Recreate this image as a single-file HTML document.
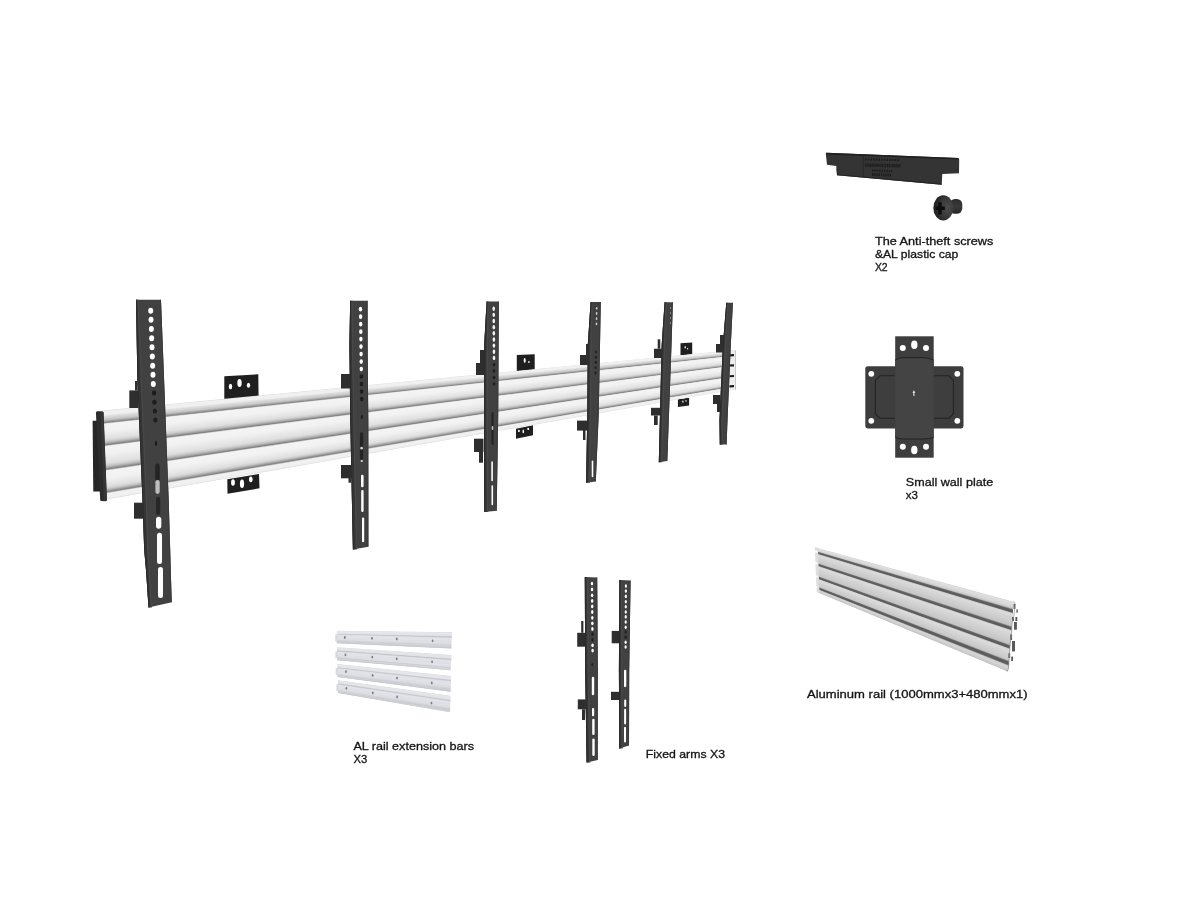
<!DOCTYPE html>
<html><head><meta charset="utf-8"><title>Video wall mount kit contents</title>
<style>
html,body{margin:0;padding:0;background:#ffffff;}
body{position:relative;width:1200px;height:900px;overflow:hidden;font-family:"Liberation Sans",sans-serif;}
svg{display:block;}
#art{position:absolute;left:0;top:0;}
#labels{position:absolute;left:0;top:0;will-change:transform;}
</style></head><body>
<svg id="art" width="1200" height="900" viewBox="0 0 1200 900">
<rect width="1200" height="900" fill="#ffffff"/>
<g id="wallplates">
<polygon points="224.3,376.2 258.3,374.3 258.6,398 224.3,400" fill="#1f1f1f"/>
<ellipse cx="230.5" cy="386.5" rx="1.7" ry="2.7" fill="#ffffff"/>
<ellipse cx="239.5" cy="383" rx="2.2" ry="3.9" fill="#ffffff"/>
<ellipse cx="248.5" cy="385.3" rx="1.7" ry="2.5" fill="#ffffff"/>
<polygon points="227.3,479.3 259,474 259.5,488.3 227.5,493.8" fill="#1f1f1f"/>
<ellipse cx="233" cy="482.5" rx="1.9" ry="3.3" fill="#ffffff"/>
<ellipse cx="242" cy="483.7" rx="2.1" ry="4.3" fill="#ffffff"/>
<ellipse cx="250.8" cy="479.3" rx="1.8" ry="2.9" fill="#ffffff"/>
<polygon points="516.8,355 534.7,354.2 534.7,372 516.8,372.5" fill="#1f1f1f"/>
<ellipse cx="524.7" cy="360.5" rx="1" ry="2.4" fill="#ffffff"/>
<ellipse cx="528.9" cy="362" rx="0.8" ry="1" fill="#ffffff"/>
<polygon points="516,428.7 533,425.3 533,435.3 516,438.7" fill="#1f1f1f"/>
<ellipse cx="518.9" cy="430.9" rx="0.9" ry="1.2" fill="#ffffff"/>
<ellipse cx="523.3" cy="431.4" rx="0.8" ry="1.9" fill="#ffffff"/>
<ellipse cx="528.2" cy="428.9" rx="0.9" ry="1.2" fill="#ffffff"/>
<polygon points="680.5,343.2 692.2,342.4 692.2,355 680.5,356.5" fill="#1f1f1f"/>
<ellipse cx="685.2" cy="347.3" rx="0.6" ry="1.3" fill="#ffffff"/>
<ellipse cx="687.6" cy="348.8" rx="0.6" ry="0.7" fill="#ffffff"/>
<polygon points="677.9,399.2 689.1,397.7 689.1,405.4 677.9,407" fill="#1f1f1f"/>
<ellipse cx="682.9" cy="401.6" rx="0.6" ry="1.2" fill="#ffffff"/>
<ellipse cx="686" cy="400.9" rx="0.6" ry="0.8" fill="#ffffff"/>
</g>
<polygon points="92.6,420.8 97.2,420.8 101.5,491.5 93.3,491.5" fill="#262626"/>
<g id="rail">
<polygon points="100,410.81 735,349.88 735,350.67 100,412.6" fill="#dedede"/>
<polygon points="100,411.52 735,350.2 735,350.69 100,412.63" fill="#f0f0f0"/>
<polygon points="100,411.55 735,350.21 735,351.02 100,413.38" fill="#f0f0f0"/>
<polygon points="100,412.3 735,350.54 735,351.34 100,414.13" fill="#f0f0f0"/>
<polygon points="100,413.05 735,350.87 735,351.67 100,414.88" fill="#f0f0f0"/>
<polygon points="100,413.8 735,351.2 735,352 100,415.63" fill="#f0f0f0"/>
<polygon points="100,414.55 735,351.53 735,352.33 100,416.37" fill="#f0f0f0"/>
<polygon points="100,415.3 735,351.86 735,352.66 100,417.12" fill="#ececec"/>
<polygon points="100,416.04 735,352.19 735,352.92 100,417.72" fill="#e4e4e4"/>
<polygon points="100,416.64 735,352.45 735,352.99 100,417.87" fill="#dfdfdf"/>
<polygon points="100,416.79 735,352.52 735,353.32 100,418.62" fill="#dcdcdc"/>
<polygon points="100,417.54 735,352.84 735,353.65 100,419.37" fill="#d7d7d7"/>
<polygon points="100,418.29 735,353.17 735,353.98 100,420.12" fill="#d1d1d1"/>
<polygon points="100,419.04 735,353.5 735,354.31 100,420.86" fill="#cccccc"/>
<polygon points="100,419.79 735,353.83 735,354.5 100,421.31" fill="#c8c8c8"/>
<polygon points="100,420.24 735,354.03 735,354.63 100,421.61" fill="#c3c3c3"/>
<polygon points="100,420.53 735,354.16 735,354.96 100,422.36" fill="#b8b8b8"/>
<polygon points="100,421.28 735,354.49 735,355.29 100,423.11" fill="#a8a8a8"/>
<polygon points="100,422.03 735,354.82 735,355.62 100,423.86" fill="#949494"/>
<polygon points="100,422.78 735,355.15 735,355.81 100,424.28" fill="#818181"/>
<polygon points="100,423.2 735,355.33 735,355.95 100,424.61" fill="#8a8a8a"/>
<polygon points="100,423.53 735,355.48 735,356.12 100,425" fill="#acacac"/>
<polygon points="100,423.92 735,355.65 735,356.28 100,425.35" fill="#d0d0d0"/>
<polygon points="100,424.28 735,355.81 735,356.36 100,425.53" fill="#ebebeb"/>
<polygon points="100,424.46 735,355.88 735,356.61 100,426.1" fill="#f4f4f4"/>
<polygon points="100,425.02 735,356.13 735,356.94 100,426.85" fill="#f4f4f4"/>
<polygon points="100,425.77 735,356.46 735,357.27 100,427.6" fill="#f4f4f4"/>
<polygon points="100,426.52 735,356.79 735,357.59 100,428.35" fill="#f3f3f3"/>
<polygon points="100,427.27 735,357.12 735,357.92 100,429.1" fill="#f3f3f3"/>
<polygon points="100,428.02 735,357.45 735,358.25 100,429.84" fill="#f3f3f3"/>
<polygon points="100,428.77 735,357.78 735,358.58 100,430.59" fill="#f3f3f3"/>
<polygon points="100,429.52 735,358.11 735,358.91 100,431.34" fill="#f2f2f2"/>
<polygon points="100,430.26 735,358.44 735,359.24 100,432.09" fill="#f2f2f2"/>
<polygon points="100,431.01 735,358.77 735,359.44 100,432.54" fill="#f2f2f2"/>
<polygon points="100,431.46 735,358.96 735,359.57 100,432.84" fill="#f2f2f2"/>
<polygon points="100,431.76 735,359.09 735,359.9 100,433.59" fill="#f0f0f0"/>
<polygon points="100,432.51 735,359.42 735,360.23 100,434.33" fill="#efefef"/>
<polygon points="100,433.26 735,359.75 735,360.56 100,435.08" fill="#ededed"/>
<polygon points="100,434.01 735,360.08 735,360.88 100,435.83" fill="#ececec"/>
<polygon points="100,434.75 735,360.41 735,361.21 100,436.58" fill="#eaeaea"/>
<polygon points="100,435.5 735,360.74 735,361.54 100,437.33" fill="#e8e8e8"/>
<polygon points="100,436.25 735,361.07 735,361.87 100,438.08" fill="#e6e6e6"/>
<polygon points="100,437 735,361.4 735,362.2 100,438.82" fill="#e5e5e5"/>
<polygon points="100,437.75 735,361.73 735,362.53 100,439.57" fill="#e3e3e3"/>
<polygon points="100,438.5 735,362.06 735,362.86 100,440.32" fill="#e2e2e2"/>
<polygon points="100,439.24 735,362.38 735,362.99 100,440.62" fill="#e0e0e0"/>
<polygon points="100,439.54 735,362.52 735,363.19 100,441.07" fill="#dedede"/>
<polygon points="100,439.99 735,362.71 735,363.52 100,441.82" fill="#d9d9d9"/>
<polygon points="100,440.74 735,363.04 735,363.84 100,442.57" fill="#d3d3d3"/>
<polygon points="100,441.49 735,363.37 735,363.98 100,442.87" fill="#cfcfcf"/>
<polygon points="100,441.79 735,363.5 735,364.17 100,443.32" fill="#cacaca"/>
<polygon points="100,442.24 735,363.7 735,364.5 100,444.06" fill="#c0c0c0"/>
<polygon points="100,442.99 735,364.03 735,364.83 100,444.81" fill="#b3b3b3"/>
<polygon points="100,443.73 735,364.36 735,364.96 100,445.11" fill="#ababab"/>
<polygon points="100,444.03 735,364.49 735,365.16 100,445.56" fill="#a1a1a1"/>
<polygon points="100,444.48 735,364.69 735,365.49 100,446.31" fill="#909090"/>
<polygon points="100,445.23 735,365.02 735,365.67 100,446.73" fill="#7e7e7e"/>
<polygon points="100,445.65 735,365.2 735,365.82 100,447.06" fill="#868686"/>
<polygon points="100,445.98 735,365.34 735,366.03 100,447.54" fill="#a9a9a9"/>
<polygon points="100,446.46 735,365.56 735,366.15 100,447.81" fill="#cacaca"/>
<polygon points="100,446.73 735,365.67 735,366.31 100,448.16" fill="#e5e5e5"/>
<polygon points="100,447.09 735,365.83 735,366.48 100,448.55" fill="#f4f4f4"/>
<polygon points="100,447.48 735,366 735,366.81 100,449.3" fill="#f4f4f4"/>
<polygon points="100,448.22 735,366.33 735,367.13 100,450.05" fill="#f4f4f4"/>
<polygon points="100,448.97 735,366.66 735,367.46 100,450.8" fill="#f3f3f3"/>
<polygon points="100,449.72 735,366.99 735,367.79 100,451.55" fill="#f3f3f3"/>
<polygon points="100,450.47 735,367.32 735,368.12 100,452.3" fill="#f3f3f3"/>
<polygon points="100,451.22 735,367.65 735,368.45 100,453.04" fill="#f3f3f3"/>
<polygon points="100,451.97 735,367.98 735,368.78 100,453.79" fill="#f2f2f2"/>
<polygon points="100,452.71 735,368.31 735,369.11 100,454.54" fill="#f2f2f2"/>
<polygon points="100,453.46 735,368.63 735,369.31 100,454.99" fill="#f2f2f2"/>
<polygon points="100,453.91 735,368.83 735,369.44 100,455.29" fill="#f2f2f2"/>
<polygon points="100,454.21 735,368.96 735,369.77 100,456.04" fill="#f1f1f1"/>
<polygon points="100,454.96 735,369.29 735,370.09 100,456.79" fill="#efefef"/>
<polygon points="100,455.71 735,369.62 735,370.42 100,457.53" fill="#eeeeee"/>
<polygon points="100,456.46 735,369.95 735,370.75 100,458.28" fill="#ededed"/>
<polygon points="100,457.2 735,370.28 735,371.08 100,459.03" fill="#ebebeb"/>
<polygon points="100,457.95 735,370.61 735,371.41 100,459.78" fill="#eaeaea"/>
<polygon points="100,458.7 735,370.94 735,371.74 100,460.53" fill="#e9e9e9"/>
<polygon points="100,459.45 735,371.27 735,372.07 100,461.28" fill="#e7e7e7"/>
<polygon points="100,460.2 735,371.59 735,372.4 100,462.02" fill="#e6e6e6"/>
<polygon points="100,460.95 735,371.92 735,372.73 100,462.77" fill="#e4e4e4"/>
<polygon points="100,461.69 735,372.25 735,373.06 100,463.52" fill="#e3e3e3"/>
<polygon points="100,462.44 735,372.58 735,373.38 100,464.27" fill="#e2e2e2"/>
<polygon points="100,463.19 735,372.91 735,373.65 100,464.87" fill="#e1e1e1"/>
<polygon points="100,463.79 735,373.17 735,373.71 100,465.02" fill="#dfdfdf"/>
<polygon points="100,463.94 735,373.24 735,374.04 100,465.77" fill="#dcdcdc"/>
<polygon points="100,464.69 735,373.57 735,374.37 100,466.51" fill="#d6d6d6"/>
<polygon points="100,465.44 735,373.9 735,374.63 100,467.11" fill="#d0d0d0"/>
<polygon points="100,466.04 735,374.16 735,374.7 100,467.26" fill="#cdcdcd"/>
<polygon points="100,466.19 735,374.23 735,375.03 100,468.01" fill="#c6c6c6"/>
<polygon points="100,466.93 735,374.56 735,375.36 100,468.76" fill="#bbbbbb"/>
<polygon points="100,467.68 735,374.88 735,375.69 100,469.51" fill="#afafaf"/>
<polygon points="100,468.43 735,375.21 735,375.74 100,469.63" fill="#a9a9a9"/>
<polygon points="100,468.55 735,375.27 735,376.02 100,470.26" fill="#9f9f9f"/>
<polygon points="100,469.18 735,375.54 735,376.34 100,471" fill="#8c8c8c"/>
<polygon points="100,469.93 735,375.87 735,376.49 100,471.33" fill="#7d7d7d"/>
<polygon points="100,470.26 735,376.02 735,376.67 100,471.75" fill="#8a8a8a"/>
<polygon points="100,470.68 735,376.2 735,376.84 100,472.14" fill="#adadad"/>
<polygon points="100,471.06 735,376.37 735,377 100,472.5" fill="#cdcdcd"/>
<polygon points="100,471.42 735,376.53 735,377.12 100,472.77" fill="#e8e8e8"/>
<polygon points="100,471.69 735,376.65 735,377.33 100,473.25" fill="#f4f4f4"/>
<polygon points="100,472.17 735,376.86 735,377.66 100,474" fill="#f4f4f4"/>
<polygon points="100,472.92 735,377.19 735,377.99 100,474.75" fill="#f4f4f4"/>
<polygon points="100,473.67 735,377.52 735,378.32 100,475.49" fill="#f3f3f3"/>
<polygon points="100,474.42 735,377.84 735,378.65 100,476.24" fill="#f3f3f3"/>
<polygon points="100,475.17 735,378.17 735,378.98 100,476.99" fill="#f3f3f3"/>
<polygon points="100,475.91 735,378.5 735,379.31 100,477.74" fill="#f3f3f3"/>
<polygon points="100,476.66 735,378.83 735,379.63 100,478.49" fill="#f3f3f3"/>
<polygon points="100,477.41 735,379.16 735,379.96 100,479.24" fill="#f2f2f2"/>
<polygon points="100,478.16 735,379.49 735,380.29 100,479.99" fill="#f2f2f2"/>
<polygon points="100,478.91 735,379.82 735,380.36 100,480.13" fill="#f2f2f2"/>
<polygon points="100,479.06 735,379.88 735,380.62 100,480.73" fill="#f1f1f1"/>
<polygon points="100,479.66 735,380.15 735,380.95 100,481.48" fill="#f0f0f0"/>
<polygon points="100,480.4 735,380.48 735,381.28 100,482.23" fill="#eeeeee"/>
<polygon points="100,481.15 735,380.81 735,381.61 100,482.98" fill="#ececec"/>
<polygon points="100,481.9 735,381.13 735,381.94 100,483.73" fill="#ebebeb"/>
<polygon points="100,482.65 735,381.46 735,382.27 100,484.48" fill="#e9e9e9"/>
<polygon points="100,483.4 735,381.79 735,382.59 100,485.22" fill="#e8e8e8"/>
<polygon points="100,484.15 735,382.12 735,382.92 100,485.97" fill="#e6e6e6"/>
<polygon points="100,484.89 735,382.45 735,383.25 100,486.72" fill="#e4e4e4"/>
<polygon points="100,485.64 735,382.78 735,383.58 100,487.47" fill="#e2e2e2"/>
<polygon points="100,486.39 735,383.11 735,383.91 100,488.22" fill="#e1e1e1"/>
<polygon points="100,487.14 735,383.44 735,384.24 100,488.97" fill="#dddddd"/>
<polygon points="100,487.89 735,383.77 735,384.57 100,489.71" fill="#d7d7d7"/>
<polygon points="100,488.64 735,384.09 735,384.9 100,490.46" fill="#d1d1d1"/>
<polygon points="100,489.38 735,384.42 735,385.23 100,491.21" fill="#c7c7c7"/>
<polygon points="100,490.13 735,384.75 735,385.56 100,491.96" fill="#b9b9b9"/>
<polygon points="100,490.88 735,385.08 735,385.81 100,492.53" fill="#adadad"/>
<polygon points="100,491.45 735,385.33 735,385.88 100,492.71" fill="#a6a6a6"/>
<polygon points="100,491.63 735,385.41 735,386.21 100,493.46" fill="#9a9a9a"/>
<polygon points="100,492.38 735,385.74 735,386.54 100,494.2" fill="#878787"/>
<polygon points="100,493.13 735,386.07 735,386.59 100,494.32" fill="#7c7c7c"/>
<polygon points="100,493.25 735,386.12 735,386.87 100,494.95" fill="#959595"/>
<polygon points="100,493.87 735,386.4 735,386.99 100,495.22" fill="#bcbcbc"/>
<polygon points="100,494.14 735,386.52 735,387.2 100,495.7" fill="#d6d6d6"/>
<polygon points="100,494.62 735,386.73 735,387.31 100,495.94" fill="#ebebeb"/>
<polygon points="100,494.86 735,386.83 735,387.53 100,496.45" fill="#f2f2f2"/>
<polygon points="100,495.37 735,387.06 735,387.86 100,497.2" fill="#f2f2f2"/>
<polygon points="100,496.12 735,387.38 735,388.19 100,497.95" fill="#f1f1f1"/>
<polygon points="100,496.87 735,387.71 735,388.52 100,498.69" fill="#f1f1f1"/>
<polygon points="100,497.62 735,388.04 735,388.84 100,499.44" fill="#f1f1f1"/>
<polygon points="100,498.36 735,388.37 735,389.17 100,500.19" fill="#f0f0f0"/>
<polygon points="100,499.11 735,388.7 735,389.36 100,500.61" fill="#f0f0f0"/>
<polygon points="100,499.71 735,388.96 735,389.36 100,500.61" fill="#eeeeee"/>
<polygon points="100,499.86 735,389.03 735,389.36 100,500.61" fill="#e0e0e0"/>
</g>
<polygon points="729.5,351.5 735.5,350.5 735.5,390 729.5,390.5" fill="#eeeeee"/>
<polygon points="735,350.5 735.8,350.5 735.8,390 735,390" fill="#bbbbbb"/>
<polygon points="729.5,354.3 734,354.1 734,356.2 729.5,356.4" fill="#1a1a1a"/>
<polygon points="729.5,364.5 734,364.3 734,366.4 729.5,366.6" fill="#1a1a1a"/>
<polygon points="729.5,375.2 734,375 734,377.1 729.5,377.3" fill="#1a1a1a"/>
<polygon points="729.5,385.3 734,385.1 734,387.2 729.5,387.4" fill="#1a1a1a"/>
<polygon points="95.9,412.2 97,411.3 102.3,411.3 103.6,412.2 107,500.5 106,501.2 101,501 100.2,500.2" fill="#2c2c2c"/>
<polygon points="100.3,412 103.4,412 106.8,500 103.8,500.5" fill="#363636"/>
<g id="hooks">
<polygon points="129.3,390.4 138.5,390.4 138.5,408 129.3,408" fill="#2e2e2e"/>
<polygon points="135,381 137.5,381 137.5,390.5 135,390.5" fill="#2e2e2e"/>
<polygon points="134,502.7 143.3,502.7 143.3,518.7 134,518.7" fill="#2e2e2e"/>
<polygon points="341,374 350.5,374 350.5,388.5 341,388.5" fill="#2e2e2e"/>
<polygon points="341,465 352,465 352,478.3 341,478.3" fill="#2e2e2e"/>
<polygon points="348.5,478 351,478 351,482.7 348.5,482.7" fill="#2e2e2e"/>
<polygon points="476,363 484.5,363 484.5,375 476,375" fill="#2e2e2e"/>
<polygon points="480,350 484.5,350 484.5,363 480,363" fill="#2e2e2e"/>
<polygon points="474,438.7 483.5,438.7 483.5,452 474,452" fill="#2e2e2e"/>
<polygon points="479,452 483,452 483,462.7 479,462.7" fill="#2e2e2e"/>
<polygon points="580,355 589,355 589,365 580,365" fill="#2e2e2e"/>
<polygon points="586,344 589,344 589,355 586,355" fill="#2e2e2e"/>
<polygon points="577,420.6 587,420.6 587,430.6 577,430.6" fill="#2e2e2e"/>
<polygon points="583,430 585.5,430 585.5,440 583,440" fill="#2e2e2e"/>
<polygon points="654,348.7 663.5,348.7 663.5,358 654,358" fill="#2e2e2e"/>
<polygon points="657.7,339.3 660.3,339.3 660.3,348.7 657.7,348.7" fill="#2e2e2e"/>
<polygon points="651,407.8 661,407.8 661,415.5 651,415.5" fill="#2e2e2e"/>
<polygon points="654,415.5 657.7,415.5 657.7,425 654,425" fill="#2e2e2e"/>
<polygon points="716,344 724.5,344 724.5,352.5 716,352.5" fill="#2e2e2e"/>
<polygon points="720,335 724,335 724,344 720,344" fill="#2e2e2e"/>
<polygon points="713,395 720.5,395 720.5,404 713,404" fill="#2e2e2e"/>
<polygon points="717,404 720,404 720,412 717,412" fill="#2e2e2e"/>
</g>
<g id="arms">
<polygon points="136,299.8 137.4,380 142.5,500 144.2,550 146,570 148.5,607.5 171.75,602.25 170.75,570 170.2,550 168.7,500 164.1,380 161,299.8" fill="#414141"/>
<polygon points="136,299.8 137.4,380 142.5,500 144.2,550 146,570 148.5,607.5 150.7,607.5 148.6,570 147.2,550 145.7,500 140.6,380 137.5,299.8" fill="#353535"/>
<polygon points="137.5,299.8 140.6,380 145.7,500 147.2,550 148.6,570 150.7,607.5 152,607.5 149.9,570 148.5,550 147,500 141.9,380 138.8,299.8" fill="#484848"/>
<polygon points="136,299.8 137.4,380 142.5,500 144.2,550 146,570 148.5,607.5 149.4,607.5 146.9,570 145.1,550 143.4,500 138.3,380 136.9,299.8" fill="#2a2a2a"/>
<polygon points="160.2,299.8 163.3,380 167.9,500 169.4,550 169.95,570 170.95,602.25 171.75,602.25 170.75,570 170.2,550 168.7,500 164.1,380 161,299.8" fill="#383838"/>
<ellipse cx="150.7" cy="310.7" rx="2.5" ry="3" fill="#ffffff"/>
<ellipse cx="151.02" cy="319.86" rx="2.5" ry="3" fill="#ffffff"/>
<ellipse cx="151.35" cy="329.02" rx="2.5" ry="3" fill="#ffffff"/>
<ellipse cx="151.68" cy="338.18" rx="2.5" ry="3" fill="#ffffff"/>
<ellipse cx="152" cy="347.34" rx="2.5" ry="3" fill="#ffffff"/>
<ellipse cx="152.32" cy="356.5" rx="2.5" ry="3" fill="#ffffff"/>
<ellipse cx="152.65" cy="365.66" rx="2.5" ry="3" fill="#ffffff"/>
<ellipse cx="152.98" cy="374.82" rx="2.5" ry="3" fill="#ffffff"/>
<ellipse cx="153.3" cy="383.98" rx="2.5" ry="3" fill="#ffffff"/>
<ellipse cx="154" cy="392.9" rx="2.2" ry="2.6" fill="#1d1d1d"/>
<ellipse cx="154.4" cy="402.2" rx="2.2" ry="2.6" fill="#1d1d1d"/>
<ellipse cx="154.9" cy="411.1" rx="2.1" ry="2.5" fill="#1d1d1d"/>
<ellipse cx="155.3" cy="420" rx="2.1" ry="2.5" fill="#1d1d1d"/>
<ellipse cx="156" cy="443.3" rx="1" ry="2.6" fill="#161616"/>
<rect x="155.2" y="463.6" width="4.5" height="17.4" rx="2.25" fill="#242424"/>
<rect x="155.4" y="480" width="4.3" height="14" rx="2.15" fill="#bdbdbd"/>
<rect x="156" y="497" width="4.2" height="18" rx="2.1" fill="#262626"/>
<rect x="156" y="516.7" width="5.3" height="12" rx="2.65" fill="#ffffff"/>
<rect x="157" y="532.7" width="5" height="31.3" rx="2.5" fill="#ffffff"/>
<rect x="158" y="567" width="5" height="31" rx="2.5" fill="#ffffff"/>
<polygon points="350.2,300.7 349.4,345 350.3,420 352.9,549.5 368.4,546.8 368.3,420 367.6,345 367.6,300.7" fill="#414141"/>
<polygon points="350.2,300.7 349.4,345 350.3,420 352.9,549.5 355.9,549.5 353.3,420 351.9,345 351.4,300.7" fill="#353535"/>
<polygon points="351.4,300.7 351.9,345 353.3,420 355.9,549.5 357.2,549.5 354.6,420 353.2,345 352.7,300.7" fill="#484848"/>
<polygon points="350.2,300.7 349.4,345 350.3,420 352.9,549.5 353.8,549.5 351.2,420 350.3,345 351.1,300.7" fill="#2a2a2a"/>
<polygon points="366.8,300.7 366.8,345 367.5,420 367.6,546.8 368.4,546.8 368.3,420 367.6,345 367.6,300.7" fill="#383838"/>
<ellipse cx="360.5" cy="309.2" rx="1.7" ry="2.4" fill="#ffffff"/>
<ellipse cx="360.6" cy="316.68" rx="1.7" ry="2.4" fill="#ffffff"/>
<ellipse cx="360.7" cy="324.16" rx="1.7" ry="2.4" fill="#ffffff"/>
<ellipse cx="360.8" cy="331.64" rx="1.7" ry="2.4" fill="#ffffff"/>
<ellipse cx="360.9" cy="339.12" rx="1.7" ry="2.4" fill="#ffffff"/>
<ellipse cx="361" cy="346.6" rx="1.7" ry="2.4" fill="#ffffff"/>
<ellipse cx="361.1" cy="354.08" rx="1.7" ry="2.4" fill="#ffffff"/>
<ellipse cx="361.2" cy="361.56" rx="1.7" ry="2.4" fill="#ffffff"/>
<ellipse cx="361.3" cy="369.04" rx="1.7" ry="2.4" fill="#ffffff"/>
<ellipse cx="361.4" cy="376.6" rx="1.8" ry="2.2" fill="#1d1d1d"/>
<ellipse cx="361.5" cy="384" rx="1.8" ry="2.2" fill="#1d1d1d"/>
<ellipse cx="361.6" cy="391.5" rx="1.8" ry="2.2" fill="#1d1d1d"/>
<ellipse cx="361.7" cy="399" rx="1.8" ry="2.2" fill="#1d1d1d"/>
<ellipse cx="361.8" cy="416.9" rx="0.8" ry="2.2" fill="#161616"/>
<rect x="359.9" y="432.3" width="3.3" height="27.7" rx="1.65" fill="#242424"/>
<rect x="360.2" y="446.7" width="2.8" height="2.9" rx="1.4" fill="#c8c8c8"/>
<rect x="360.6" y="460" width="2.3" height="2" rx="1.15" fill="#e0e0e0"/>
<rect x="361" y="474.7" width="2.6" height="12.5" rx="1.3" fill="#ffffff"/>
<rect x="361.2" y="489.9" width="2.4" height="22.1" rx="1.2" fill="#ffffff"/>
<rect x="362" y="517.4" width="2.2" height="24.9" rx="1.1" fill="#ffffff"/>
<polygon points="486.6,301.4 484.2,345 484,415 484.3,512 496.7,510.7 498.2,415 498.6,345 498.9,301.4" fill="#414141"/>
<polygon points="486.6,301.4 484.2,345 484,415 484.3,512 486.9,512 486.6,415 486.7,345 487.4,301.4" fill="#353535"/>
<polygon points="487.4,301.4 486.7,345 486.6,415 486.9,512 488.2,512 487.9,415 488,345 488.7,301.4" fill="#484848"/>
<polygon points="486.6,301.4 484.2,345 484,415 484.3,512 485.2,512 484.9,415 485.1,345 487.5,301.4" fill="#2a2a2a"/>
<polygon points="498.1,301.4 497.8,345 497.4,415 495.9,510.7 496.7,510.7 498.2,415 498.6,345 498.9,301.4" fill="#383838"/>
<ellipse cx="493.7" cy="308.7" rx="1.3" ry="2.2" fill="#f2f2f2"/>
<ellipse cx="493.74" cy="314.85" rx="1.3" ry="2.2" fill="#f2f2f2"/>
<ellipse cx="493.77" cy="321" rx="1.3" ry="2.2" fill="#f2f2f2"/>
<ellipse cx="493.81" cy="327.15" rx="1.3" ry="2.2" fill="#f2f2f2"/>
<ellipse cx="493.85" cy="333.3" rx="1.3" ry="2.2" fill="#f2f2f2"/>
<ellipse cx="493.89" cy="339.45" rx="1.3" ry="2.2" fill="#f2f2f2"/>
<ellipse cx="493.93" cy="345.6" rx="1.3" ry="2.2" fill="#f2f2f2"/>
<ellipse cx="493.96" cy="351.75" rx="1.3" ry="2.2" fill="#f2f2f2"/>
<ellipse cx="494" cy="357.9" rx="1.3" ry="2.2" fill="#f2f2f2"/>
<ellipse cx="494" cy="364.8" rx="1.3" ry="1.8" fill="#1d1d1d"/>
<ellipse cx="494" cy="371" rx="1.3" ry="1.8" fill="#1d1d1d"/>
<ellipse cx="494" cy="377.5" rx="1.3" ry="1.8" fill="#1d1d1d"/>
<ellipse cx="494" cy="384" rx="1.3" ry="1.8" fill="#1d1d1d"/>
<rect x="491.4" y="412" width="2.2" height="33" rx="1.1" fill="#242424"/>
<rect x="491.7" y="426" width="1.6" height="4" rx="0.8" fill="#c0c0c0"/>
<rect x="491.3" y="461.3" width="1.6" height="20" rx="0.8" fill="#ffffff"/>
<rect x="491.5" y="485.3" width="1.6" height="20" rx="0.8" fill="#ffffff"/>
<polygon points="590.6,301.9 587.8,345 587.3,415 586.1,482.8 595.8,481.4 598.7,415 600,345 600.8,301.9" fill="#414141"/>
<polygon points="590.6,301.9 587.8,345 587.3,415 586.1,482.8 588.6,482.8 589.8,415 590.3,345 591.4,301.9" fill="#353535"/>
<polygon points="591.4,301.9 590.3,345 589.8,415 588.6,482.8 589.9,482.8 591.1,415 591.6,345 592.7,301.9" fill="#484848"/>
<polygon points="590.6,301.9 587.8,345 587.3,415 586.1,482.8 587,482.8 588.2,415 588.7,345 591.5,301.9" fill="#2a2a2a"/>
<polygon points="600,301.9 599.2,345 597.9,415 595,481.4 595.8,481.4 598.7,415 600,345 600.8,301.9" fill="#383838"/>
<ellipse cx="596.7" cy="308.3" rx="0.8" ry="1.4" fill="#cfcfcf"/>
<ellipse cx="596.63" cy="313.5" rx="0.8" ry="1.4" fill="#cfcfcf"/>
<ellipse cx="596.57" cy="318.7" rx="0.8" ry="1.4" fill="#cfcfcf"/>
<ellipse cx="596.5" cy="323.9" rx="0.8" ry="1.4" fill="#cfcfcf"/>
<ellipse cx="596" cy="352" rx="1" ry="1.4" fill="#222222"/>
<ellipse cx="595.9" cy="357.3" rx="1" ry="1.4" fill="#1d1d1d"/>
<ellipse cx="595.8" cy="362.5" rx="1" ry="1.4" fill="#1d1d1d"/>
<ellipse cx="595.6" cy="367.8" rx="1" ry="1.4" fill="#1d1d1d"/>
<ellipse cx="595.5" cy="373" rx="1" ry="1.4" fill="#1d1d1d"/>
<rect x="591.7" y="460.6" width="1.6" height="16.6" rx="0.8" fill="#ffffff"/>
<polygon points="664.6,302.3 661.7,345 658.8,462.2 667.3,461 671.5,345 672.9,302.3" fill="#414141"/>
<polygon points="664.6,302.3 661.7,345 658.8,462.2 661,462.2 663.9,345 665.4,302.3" fill="#353535"/>
<polygon points="665.4,302.3 663.9,345 661,462.2 662.3,462.2 665.2,345 666.7,302.3" fill="#484848"/>
<polygon points="664.6,302.3 661.7,345 658.8,462.2 659.7,462.2 662.6,345 665.5,302.3" fill="#2a2a2a"/>
<polygon points="672.1,302.3 670.7,345 666.5,461 667.3,461 671.5,345 672.9,302.3" fill="#383838"/>
<ellipse cx="670.5" cy="308" rx="0.6" ry="1.1" fill="#8a8a8a"/>
<ellipse cx="670.5" cy="313" rx="0.6" ry="1.1" fill="#8a8a8a"/>
<ellipse cx="670.5" cy="318" rx="0.6" ry="1.1" fill="#8a8a8a"/>
<ellipse cx="670.5" cy="323" rx="0.6" ry="1.1" fill="#8a8a8a"/>
<polygon points="726.3,302.7 722.9,345 719.5,420 719.8,444.5 726.6,444.5 727.5,420 730.8,345 732.9,302.7" fill="#414141"/>
<polygon points="726.3,302.7 722.9,345 719.5,420 719.8,444.5 721.8,444.5 721.5,420 724.9,345 727.1,302.7" fill="#353535"/>
<polygon points="727.1,302.7 724.9,345 721.5,420 721.8,444.5 723.1,444.5 722.8,420 726.2,345 728.4,302.7" fill="#484848"/>
<polygon points="726.3,302.7 722.9,345 719.5,420 719.8,444.5 720.7,444.5 720.4,420 723.8,345 727.2,302.7" fill="#2a2a2a"/>
<polygon points="732.1,302.7 730,345 726.7,420 725.8,444.5 726.6,444.5 727.5,420 730.8,345 732.9,302.7" fill="#383838"/>
</g>
<g id="cap">
<polygon points="826.3,152.7 958.3,158 959.2,159.5 959,173.3 942.3,174 941.7,184.7 837,175.3 836.3,166 827,164.7 825.8,154" fill="#343434"/>
<polygon points="826.3,152.7 958.3,158 959,159.6 826,154.5" fill="#202020"/>
<polygon points="836.3,166 837,175.3 941.7,184.7 941.7,183.4 838,174.2" fill="#262626"/>
<line x1="864.9" y1="159.4" x2="899" y2="160.1" stroke="#1e1e1e" stroke-width="2.1" stroke-dasharray="1.6,1.1"/>
<line x1="864.9" y1="165.1" x2="900.9" y2="165.8" stroke="#1e1e1e" stroke-width="3.4" stroke-dasharray="1.2,0.5"/>
<line x1="872" y1="170.4" x2="892.2" y2="171.1" stroke="#1e1e1e" stroke-width="2.2" stroke-dasharray="1.5,0.9"/>
<line x1="872" y1="174.5" x2="891.2" y2="175.2" stroke="#1e1e1e" stroke-width="3" stroke-dasharray="1.4,0.8"/>
<line x1="863.3" y1="155.8" x2="863.3" y2="177.3" stroke="#252525" stroke-width="0.8"/>
<defs><radialGradient id="sg" cx="0.72" cy="0.5" r="0.6"><stop offset="0" stop-color="#4c4c4c"/><stop offset="0.6" stop-color="#3a3a3a"/><stop offset="1" stop-color="#262626"/></radialGradient><linearGradient id="shg" x1="0" y1="0" x2="0" y2="1"><stop offset="0" stop-color="#2a2a2a"/><stop offset="0.5" stop-color="#3a3a3a"/><stop offset="1" stop-color="#262626"/></linearGradient></defs>
<rect x="949.5" y="199" width="12.8" height="14.8" rx="5.5" fill="url(#shg)"/>
<ellipse cx="943.3" cy="207.9" rx="10" ry="12.6" fill="url(#sg)"/>
<path d="M935.6 208.3 L944.8 208.3 M940 202.2 L940 214.5" stroke="#0d0d0d" stroke-width="3.4" stroke-linecap="butt"/>
</g>
<g id="swp">
<rect x="865.3" y="366.2" width="98.2" height="62.2" rx="2.4" fill="#3d3d3d"/>
<polyline points="895.2,375.8 880,375.8 875.4,380.4 875.4,413.7 880,418.3 895.2,418.3" fill="#3e3e3e" stroke="#232323" stroke-width="1.1"/>
<polyline points="933.6,375.8 948.8,375.8 953.4,380.4 953.4,413.7 948.8,418.3 933.6,418.3" fill="#3e3e3e" stroke="#232323" stroke-width="1.1"/>
<rect x="895.2" y="336.3" width="38.5" height="121.4" fill="#3e3e3e"/>
<path d="M895.2 360 Q899 357.7 903.3 357.7 L923.8 357.7 Q928.5 357.7 933.7 360 L933.7 437.3 Q928.5 439 923.8 439 L903.3 439 Q899 439 895.2 437.3 Z" fill="#444444"/>
<path d="M895.2 360 Q899 357.7 903.3 357.7 L923.8 357.7 Q928.5 357.7 933.7 360 M933.7 437.3 Q928.5 439 923.8 439 L903.3 439 Q899 439 895.2 437.3" fill="none" stroke="#222222" stroke-width="1"/>
<ellipse cx="871.3" cy="373.8" rx="2.9" ry="2.9" fill="#ffffff"/>
<ellipse cx="957.3" cy="373.8" rx="2.9" ry="2.9" fill="#ffffff"/>
<ellipse cx="871.3" cy="420.8" rx="2.9" ry="2.9" fill="#ffffff"/>
<ellipse cx="957.3" cy="420.8" rx="2.9" ry="2.9" fill="#ffffff"/>
<ellipse cx="902.8" cy="347.9" rx="3" ry="3" fill="#ffffff"/>
<ellipse cx="926" cy="347.9" rx="3" ry="3" fill="#ffffff"/>
<ellipse cx="902.8" cy="446.7" rx="3" ry="3" fill="#ffffff"/>
<ellipse cx="926" cy="446.7" rx="3" ry="3" fill="#ffffff"/>
<ellipse cx="914.3" cy="344.7" rx="3.2" ry="4.3" fill="#ffffff"/>
<ellipse cx="914.3" cy="450" rx="3.2" ry="4.3" fill="#ffffff"/>
<path d="M913.9 390.3 L912.5 392.8 L913.4 392.8 L913.4 396 L914.4 396 L914.4 392.8 L915.3 392.8 Z" fill="#f2f2f2"/>
</g>
<g id="alrail">
<polygon points="815.5,547.5 1013.5,601.7 1013.36,603.51 815.56,548.42" fill="#d2d2d2"/>
<polygon points="815.52,547.88 1013.44,602.44 1013.35,603.65 815.56,548.49" fill="#dedede"/>
<polygon points="815.53,547.95 1013.43,602.59 1013.3,604.25 815.58,548.79" fill="#dfdfdf"/>
<polygon points="815.55,548.25 1013.38,603.18 1013.24,604.99 815.61,549.17" fill="#dedede"/>
<polygon points="815.57,548.63 1013.33,603.92 1013.18,605.73 815.63,549.54" fill="#dcdcdc"/>
<polygon points="815.6,549 1013.27,604.66 1013.12,606.47 815.66,549.92" fill="#dadada"/>
<polygon points="815.62,549.38 1013.21,605.4 1013.07,607.21 815.68,550.3" fill="#d9d9d9"/>
<polygon points="815.64,549.75 1013.15,606.14 1013.01,607.95 815.7,550.67" fill="#d7d7d7"/>
<polygon points="815.67,550.13 1013.09,606.88 1013,608.1 815.71,550.75" fill="#d6d6d6"/>
<polygon points="815.67,550.21 1013.08,607.03 1012.95,608.69 815.73,551.05" fill="#d3d3d3"/>
<polygon points="815.69,550.51 1013.03,607.62 1012.89,609.43 815.75,551.42" fill="#cbcbcb"/>
<polygon points="815.72,550.88 1012.98,608.36 1012.84,610.05 815.77,551.74" fill="#c4c4c4"/>
<polygon points="815.74,551.2 1012.93,608.98 1012.83,610.17 815.78,551.8" fill="#b9b9b9"/>
<polygon points="815.74,551.26 1012.92,609.1 1012.79,610.76 815.8,552.1" fill="#8d8d8d"/>
<polygon points="815.76,551.56 1012.87,609.7 1012.77,610.91 815.8,552.18" fill="#676767"/>
<polygon points="815.77,551.63 1012.86,609.84 1012.72,611.6 815.82,552.55" fill="#646464"/>
<polygon points="815.79,552.01 1012.8,610.58 1012.68,612.13 815.85,552.93" fill="#5e5e5e"/>
<polygon points="815.81,552.39 1012.74,611.32 1012.67,612.24 815.85,553" fill="#5b5b5b"/>
<polygon points="815.82,552.46 1012.73,611.47 1012.64,612.67 815.87,553.3" fill="#5c5c5c"/>
<polygon points="815.84,552.76 1012.7,611.9 1012.59,613.2 815.9,553.68" fill="#606060"/>
<polygon points="815.86,553.14 1012.65,612.43 1012.58,613.4 815.91,553.81" fill="#636363"/>
<polygon points="815.87,553.27 1012.64,612.63 1012.55,613.74 815.92,554.05" fill="#858585"/>
<polygon points="815.89,553.51 1012.61,612.97 1012.54,613.91 815.93,554.17" fill="#b7b7b7"/>
<polygon points="815.89,553.63 1012.6,613.14 1012.51,614.27 815.95,554.43" fill="#cccccc"/>
<polygon points="815.91,553.89 1012.57,613.5 1012.47,614.81 815.97,554.81" fill="#d6d6d6"/>
<polygon points="815.93,554.26 1012.53,614.04 1012.43,615.34 815.99,555.18" fill="#dbdbdb"/>
<polygon points="815.96,554.64 1012.49,614.57 1012.38,615.87 816.02,555.56" fill="#dadada"/>
<polygon points="815.98,555.02 1012.44,615.11 1012.34,616.41 816.04,555.93" fill="#d9d9d9"/>
<polygon points="816.01,555.39 1012.4,615.64 1012.3,616.94 816.07,556.31" fill="#d8d8d8"/>
<polygon points="816.03,555.77 1012.36,616.17 1012.26,617.48 816.09,556.69" fill="#d7d7d7"/>
<polygon points="816.06,556.14 1012.32,616.71 1012.21,618.01 816.11,557.06" fill="#d6d6d6"/>
<polygon points="816.08,556.52 1012.28,617.24 1012.17,618.55 816.14,557.44" fill="#d5d5d5"/>
<polygon points="816.1,556.9 1012.23,617.78 1012.13,619.08 816.16,557.81" fill="#d4d4d4"/>
<polygon points="816.13,557.27 1012.19,618.31 1012.09,619.61 816.19,558.19" fill="#d3d3d3"/>
<polygon points="816.15,557.65 1012.15,618.84 1012.05,620.15 816.21,558.56" fill="#d2d2d2"/>
<polygon points="816.18,558.02 1012.11,619.38 1012,620.68 816.24,558.94" fill="#d1d1d1"/>
<polygon points="816.2,558.4 1012.06,619.91 1011.96,621.22 816.26,559.32" fill="#d0d0d0"/>
<polygon points="816.23,558.77 1012.02,620.45 1011.92,621.75 816.28,559.69" fill="#cfcfcf"/>
<polygon points="816.25,559.15 1011.98,620.98 1011.88,622.29 816.31,560.07" fill="#cecece"/>
<polygon points="816.27,559.53 1011.94,621.52 1011.84,622.82 816.33,560.44" fill="#cdcdcd"/>
<polygon points="816.3,559.9 1011.9,622.05 1011.79,623.35 816.36,560.82" fill="#cccccc"/>
<polygon points="816.32,560.28 1011.85,622.58 1011.75,623.89 816.38,561.2" fill="#cbcbcb"/>
<polygon points="816.35,560.65 1011.81,623.12 1011.71,624.42 816.4,561.57" fill="#cacaca"/>
<polygon points="816.37,561.03 1011.77,623.65 1011.67,624.96 816.43,561.95" fill="#c9c9c9"/>
<polygon points="816.39,561.41 1011.73,624.19 1011.63,625.49 816.45,562.32" fill="#c7c7c7"/>
<polygon points="816.42,561.78 1011.69,624.72 1011.58,626.03 816.48,562.7" fill="#c6c6c6"/>
<polygon points="816.44,562.16 1011.64,625.26 1011.54,626.56 816.5,563.07" fill="#c5c5c5"/>
<polygon points="816.47,562.53 1011.6,625.79 1011.51,626.99 816.52,563.38" fill="#c4c4c4"/>
<polygon points="816.49,562.83 1011.57,626.22 1011.5,627.09 816.53,563.45" fill="#bfbfbf"/>
<polygon points="816.49,562.91 1011.56,626.32 1011.46,627.63 816.55,563.83" fill="#a2a2a2"/>
<polygon points="816.51,563.28 1011.52,626.86 1011.43,628.01 816.57,564.1" fill="#797979"/>
<polygon points="816.53,563.56 1011.49,627.24 1011.41,628.16 816.57,564.2" fill="#676767"/>
<polygon points="816.54,563.66 1011.48,627.39 1011.37,628.7 816.6,564.58" fill="#646464"/>
<polygon points="816.56,564.04 1011.43,627.93 1011.33,629.23 816.62,564.95" fill="#5f5f5f"/>
<polygon points="816.59,564.41 1011.39,628.46 1011.31,629.54 816.64,565.18" fill="#5b5b5b"/>
<polygon points="816.6,564.64 1011.37,628.78 1011.29,629.76 816.65,565.33" fill="#5b5b5b"/>
<polygon points="816.61,564.79 1011.35,628.99 1011.25,630.29 816.67,565.71" fill="#5e5e5e"/>
<polygon points="816.64,565.16 1011.31,629.52 1011.22,630.69 816.69,565.99" fill="#626262"/>
<polygon points="816.65,565.45 1011.28,629.93 1011.21,630.82 816.69,566.08" fill="#707070"/>
<polygon points="816.66,565.54 1011.27,630.05 1011.18,631.2 816.71,566.35" fill="#a2a2a2"/>
<polygon points="816.68,565.81 1011.24,630.43 1011.16,631.35 816.72,566.46" fill="#cacaca"/>
<polygon points="816.68,565.92 1011.22,630.58 1011.12,631.87 816.74,566.83" fill="#d1d1d1"/>
<polygon points="816.71,566.29 1011.18,631.11 1011.11,632.09 816.75,566.98" fill="#dadada"/>
<polygon points="816.72,566.44 1011.17,631.32 1011.08,632.4 816.77,567.21" fill="#dcdcdc"/>
<polygon points="816.73,566.67 1011.14,631.64 1011.04,632.93 816.79,567.58" fill="#dbdbdb"/>
<polygon points="816.76,567.04 1011.1,632.17 1011,633.46 816.82,567.96" fill="#dadada"/>
<polygon points="816.78,567.42 1011.06,632.7 1010.96,633.99 816.84,568.34" fill="#d9d9d9"/>
<polygon points="816.8,567.79 1011.02,633.23 1010.91,634.52 816.86,568.71" fill="#d8d8d8"/>
<polygon points="816.83,568.17 1010.97,633.76 1010.87,635.05 816.89,569.09" fill="#d7d7d7"/>
<polygon points="816.85,568.55 1010.93,634.29 1010.83,635.58 816.91,569.46" fill="#d6d6d6"/>
<polygon points="816.88,568.92 1010.89,634.82 1010.79,636.11 816.94,569.84" fill="#d5d5d5"/>
<polygon points="816.9,569.3 1010.85,635.35 1010.75,636.64 816.96,570.22" fill="#d4d4d4"/>
<polygon points="816.93,569.67 1010.81,635.88 1010.71,637.17 816.98,570.59" fill="#d3d3d3"/>
<polygon points="816.95,570.05 1010.77,636.41 1010.66,637.7 817.01,570.97" fill="#d2d2d2"/>
<polygon points="816.97,570.43 1010.72,636.94 1010.62,638.23 817.03,571.34" fill="#d1d1d1"/>
<polygon points="817,570.8 1010.68,637.47 1010.58,638.76 817.06,571.72" fill="#d0d0d0"/>
<polygon points="817.02,571.18 1010.64,638 1010.54,639.29 817.08,572.09" fill="#d0d0d0"/>
<polygon points="817.05,571.55 1010.6,638.53 1010.5,639.82 817.11,572.47" fill="#cfcfcf"/>
<polygon points="817.07,571.93 1010.56,639.06 1010.45,640.35 817.13,572.85" fill="#cecece"/>
<polygon points="817.1,572.31 1010.51,639.58 1010.41,640.88 817.15,573.22" fill="#cdcdcd"/>
<polygon points="817.12,572.68 1010.47,640.11 1010.37,641.41 817.18,573.6" fill="#cccccc"/>
<polygon points="817.14,573.06 1010.43,640.64 1010.33,641.94 817.2,573.97" fill="#cbcbcb"/>
<polygon points="817.17,573.43 1010.39,641.17 1010.29,642.47 817.23,574.35" fill="#cacaca"/>
<polygon points="817.19,573.81 1010.35,641.7 1010.25,642.99 817.25,574.73" fill="#c9c9c9"/>
<polygon points="817.22,574.18 1010.31,642.23 1010.2,643.52 817.27,575.1" fill="#c8c8c8"/>
<polygon points="817.24,574.56 1010.26,642.76 1010.16,644.05 817.3,575.48" fill="#c7c7c7"/>
<polygon points="817.26,574.94 1010.22,643.29 1010.12,644.58 817.32,575.85" fill="#c6c6c6"/>
<polygon points="817.29,575.31 1010.18,643.82 1010.08,645.11 817.35,576.23" fill="#c5c5c5"/>
<polygon points="817.31,575.69 1010.14,644.35 1010.05,645.43 817.36,576.45" fill="#c4c4c4"/>
<polygon points="817.33,575.91 1010.11,644.67 1010.04,645.64 817.37,576.6" fill="#bababa"/>
<polygon points="817.34,576.06 1010.1,644.88 1010,646.17 817.4,576.98" fill="#999999"/>
<polygon points="817.36,576.44 1010.06,645.41 1009.97,646.45 817.41,577.18" fill="#747474"/>
<polygon points="817.37,576.63 1010.03,645.68 1009.95,646.7 817.42,577.36" fill="#676767"/>
<polygon points="817.38,576.82 1010.01,645.94 1009.91,647.23 817.44,577.73" fill="#636363"/>
<polygon points="817.41,577.19 1009.97,646.47 1009.87,647.79 817.47,578.11" fill="#5e5e5e"/>
<polygon points="817.43,577.57 1009.93,647 1009.85,648.01 817.48,578.26" fill="#5b5b5b"/>
<polygon points="817.44,577.72 1009.91,647.21 1009.82,648.35 817.49,578.48" fill="#5b5b5b"/>
<polygon points="817.46,577.94 1009.89,647.54 1009.78,648.9 817.52,578.86" fill="#5f5f5f"/>
<polygon points="817.48,578.32 1009.84,648.1 1009.76,649.22 817.53,579.07" fill="#636363"/>
<polygon points="817.5,578.53 1009.82,648.41 1009.74,649.46 817.54,579.24" fill="#7b7b7b"/>
<polygon points="817.51,578.69 1009.8,648.66 1009.71,649.75 817.55,579.43" fill="#adadad"/>
<polygon points="817.52,578.89 1009.78,648.95 1009.69,650.02 817.56,579.61" fill="#cbcbcb"/>
<polygon points="817.53,579.07 1009.76,649.22 1009.65,650.58 817.59,579.99" fill="#d4d4d4"/>
<polygon points="817.55,579.45 1009.71,649.77 1009.64,650.69 817.59,580.06" fill="#dbdbdb"/>
<polygon points="817.56,579.52 1009.7,649.89 1009.6,651.13 817.61,580.36" fill="#dcdcdc"/>
<polygon points="817.58,579.82 1009.67,650.33 1009.56,651.69 817.64,580.74" fill="#dbdbdb"/>
<polygon points="817.6,580.2 1009.62,650.89 1009.52,652.25 817.66,581.11" fill="#d9d9d9"/>
<polygon points="817.63,580.57 1009.58,651.45 1009.47,652.81 817.69,581.49" fill="#d8d8d8"/>
<polygon points="817.65,580.95 1009.54,652 1009.43,653.36 817.71,581.87" fill="#d7d7d7"/>
<polygon points="817.67,581.33 1009.49,652.56 1009.39,653.92 817.73,582.24" fill="#d6d6d6"/>
<polygon points="817.7,581.7 1009.45,653.12 1009.34,654.48 817.76,582.62" fill="#d5d5d5"/>
<polygon points="817.72,582.08 1009.4,653.68 1009.3,655.04 817.78,582.99" fill="#d4d4d4"/>
<polygon points="817.75,582.45 1009.36,654.23 1009.25,655.59 817.81,583.37" fill="#d2d2d2"/>
<polygon points="817.77,582.83 1009.32,654.79 1009.21,656.15 817.83,583.75" fill="#d1d1d1"/>
<polygon points="817.8,583.2 1009.27,655.35 1009.17,656.71 817.85,584.12" fill="#d0d0d0"/>
<polygon points="817.82,583.58 1009.23,655.91 1009.12,657.27 817.88,584.5" fill="#cfcfcf"/>
<polygon points="817.84,583.96 1009.18,656.46 1009.08,657.82 817.9,584.87" fill="#cecece"/>
<polygon points="817.87,584.33 1009.14,657.02 1009.03,658.38 817.93,585.25" fill="#cdcdcd"/>
<polygon points="817.89,584.71 1009.1,657.58 1008.99,658.94 817.95,585.62" fill="#cccccc"/>
<polygon points="817.92,585.08 1009.05,658.14 1008.95,659.5 817.98,586" fill="#cacaca"/>
<polygon points="817.94,585.46 1009.01,658.69 1008.9,660.05 818,586.38" fill="#c9c9c9"/>
<polygon points="817.97,585.84 1008.97,659.25 1008.86,660.61 818.02,586.75" fill="#c8c8c8"/>
<polygon points="817.99,586.21 1008.92,659.81 1008.81,661.17 818.05,587.13" fill="#c7c7c7"/>
<polygon points="818.01,586.59 1008.88,660.36 1008.8,661.39 818.06,587.28" fill="#c6c6c6"/>
<polygon points="818.02,586.74 1008.86,660.59 1008.77,661.73 818.07,587.5" fill="#b7b7b7"/>
<polygon points="818.04,586.96 1008.83,660.92 1008.73,662.28 818.1,587.88" fill="#909090"/>
<polygon points="818.06,587.34 1008.79,661.48 1008.71,662.46 818.1,588" fill="#707070"/>
<polygon points="818.07,587.46 1008.78,661.66 1008.68,662.84 818.12,588.26" fill="#666666"/>
<polygon points="818.09,587.71 1008.75,662.04 1008.63,663.45 818.14,588.63" fill="#626262"/>
<polygon points="818.11,588.09 1008.7,662.59 1008.57,664.21 818.17,589.01" fill="#5d5d5d"/>
<polygon points="818.13,588.47 1008.66,663.15 1008.56,664.36 818.17,589.08" fill="#5a5a5a"/>
<polygon points="818.14,588.54 1008.65,663.26 1008.51,664.97 818.19,589.38" fill="#5c5c5c"/>
<polygon points="818.16,588.84 1008.6,663.87 1008.45,665.73 818.22,589.76" fill="#606060"/>
<polygon points="818.18,589.22 1008.54,664.64 1008.43,666.01 818.23,589.89" fill="#636363"/>
<polygon points="818.19,589.35 1008.52,664.91 1008.39,666.5 818.24,590.13" fill="#858585"/>
<polygon points="818.21,589.59 1008.48,665.4 1008.37,666.74 818.25,590.25" fill="#b7b7b7"/>
<polygon points="818.21,589.71 1008.46,665.64 1008.33,667.26 818.27,590.51" fill="#cbcbcb"/>
<polygon points="818.23,589.97 1008.42,666.16 1008.27,668.02 818.29,590.89" fill="#d3d3d3"/>
<polygon points="818.25,590.35 1008.36,666.92 1008.21,668.79 818.31,591.26" fill="#d6d6d6"/>
<polygon points="818.28,590.72 1008.3,667.69 1008.15,669.55 818.34,591.64" fill="#d3d3d3"/>
<polygon points="818.3,591.1 1008.24,668.45 1008.09,670.31 818.36,592.01" fill="#d0d0d0"/>
<polygon points="818.33,591.47 1008.18,669.21 1008.03,671.07 818.39,592.39" fill="#cccccc"/>
<polygon points="818.35,591.85 1008.12,669.97 1008,671.5 818.4,592.6" fill="#c9c9c9"/>
<polygon points="818.38,592.22 1008.06,670.74 1008,671.5 818.4,592.6" fill="#c6c6c6"/>
<polygon points="814.8,547.3 818,547.8 819.5,592.8 816.6,592.2" fill="#dedede"/>
<polygon points="814.8,550.8 817.5,550.8 817.5,552.6 814.8,552.6" fill="#ffffff"/>
<polygon points="814.8,562.4 817.5,562.4 817.5,564.2 814.8,564.2" fill="#ffffff"/>
<polygon points="814.8,575.6 817.5,575.6 817.5,577.4 814.8,577.4" fill="#ffffff"/>
<polygon points="814.8,586.5 817.5,586.5 817.5,588.3 814.8,588.3" fill="#ffffff"/>
<rect x="1013.5" y="604" width="1.9" height="5" fill="#5a5a5a"/>
<rect x="1016.4" y="609.4" width="1.4" height="3.3" fill="#5a5a5a"/>
<rect x="1012" y="617" width="2" height="4" fill="#5a5a5a"/>
<rect x="1015.4" y="617" width="1.9" height="4" fill="#5a5a5a"/>
<rect x="1014" y="622" width="2.9" height="7.7" fill="#5a5a5a"/>
<rect x="1010.2" y="634.4" width="1.9" height="5.6" fill="#5a5a5a"/>
<rect x="1012" y="641" width="3" height="10.4" fill="#5a5a5a"/>
<rect x="1008.4" y="653.3" width="1.8" height="4.7" fill="#5a5a5a"/>
<rect x="1011.2" y="656.6" width="1.8" height="4.4" fill="#5a5a5a"/>
<path d="M1013.5 601.7 Q1015.5 602.5 1015 605 L1014 615 L1012 624 L1011.5 633 L1010 645 L1009.5 655 L1008.5 668 Q1008 671.5 1006 671" fill="none" stroke="#8a8a8a" stroke-width="0.7"/>
</g>
<g id="bars">
<polygon points="336.8,630.7 451.8,632.3 451.77,633.04 336.8,631.27" fill="#d6d8de"/>
<polygon points="336.8,631.12 451.78,632.84 451.77,633.15 336.8,631.35" fill="#e0e1e6"/>
<polygon points="336.8,631.2 451.78,632.95 451.75,633.58 336.8,631.68" fill="#e2e3e8"/>
<polygon points="336.8,631.53 451.76,633.39 451.73,634.13 336.8,632.1" fill="#e1e2e7"/>
<polygon points="336.8,631.95 451.74,633.93 451.71,634.67 336.8,632.52" fill="#e0e1e6"/>
<polygon points="336.8,632.37 451.72,634.47 451.69,635.21 336.8,632.93" fill="#e0e1e6"/>
<polygon points="336.8,632.78 451.7,635.02 451.67,635.76 336.8,633.35" fill="#dfe0e5"/>
<polygon points="336.8,633.2 451.68,635.56 451.65,636.3 336.8,633.77" fill="#dedfe4"/>
<polygon points="336.8,633.62 451.66,636.1 451.65,636.41 336.8,633.85" fill="#dedfe4"/>
<polygon points="336.8,633.7 451.66,636.21 451.63,636.84 336.8,634.18" fill="#cfd0d6"/>
<polygon points="336.8,634.03 451.64,636.65 451.62,637.06 336.8,634.35" fill="#b8bac1"/>
<polygon points="336.8,634.2 451.63,636.86 451.61,637.39 336.8,634.6" fill="#b5b7be"/>
<polygon points="336.8,634.45 451.62,637.19 451.6,637.71 336.8,634.85" fill="#bfc1c8"/>
<polygon points="336.8,634.7 451.61,637.52 451.59,637.93 336.8,635.02" fill="#c8cad0"/>
<polygon points="336.8,634.87 451.6,637.73 451.58,638.36 336.8,635.35" fill="#d5d7dd"/>
<polygon points="336.8,635.2 451.58,638.17 451.57,638.47 336.8,635.43" fill="#dee0e6"/>
<polygon points="336.8,635.28 451.58,638.28 451.55,639.02 336.8,635.85" fill="#dee0e6"/>
<polygon points="336.8,635.7 451.56,638.82 451.53,639.56 336.8,636.27" fill="#dddfe5"/>
<polygon points="336.8,636.12 451.54,639.36 451.51,640.1 336.8,636.68" fill="#dcdee4"/>
<polygon points="336.8,636.53 451.52,639.91 451.49,640.65 336.8,637.1" fill="#dbdde3"/>
<polygon points="336.8,636.95 451.5,640.45 451.47,641.19 336.8,637.52" fill="#dbdde3"/>
<polygon points="336.8,637.37 451.48,640.99 451.45,641.73 336.8,637.93" fill="#dadce2"/>
<polygon points="336.8,637.78 451.46,641.54 451.43,642.28 336.8,638.35" fill="#d9dbe1"/>
<polygon points="336.8,638.2 451.44,642.08 451.41,642.82 336.8,638.77" fill="#d9dbe1"/>
<polygon points="336.8,638.62 451.42,642.62 451.39,643.36 336.8,639.18" fill="#d8dae0"/>
<polygon points="336.8,639.03 451.4,643.17 451.37,643.91 336.8,639.6" fill="#d7d9df"/>
<polygon points="336.8,639.45 451.38,643.71 451.35,644.45 336.8,640.02" fill="#d7d9df"/>
<polygon points="336.8,639.87 451.36,644.25 451.34,644.72 336.8,640.23" fill="#d6d8de"/>
<polygon points="336.8,640.08 451.35,644.52 451.33,644.99 336.8,640.43" fill="#d4d6dc"/>
<polygon points="336.8,640.28 451.34,644.8 451.31,645.54 336.8,640.85" fill="#ccced4"/>
<polygon points="336.8,640.7 451.32,645.34 451.3,645.86 336.8,641.1" fill="#c5c7cd"/>
<polygon points="336.8,640.95 451.31,645.67 451.29,646.08 336.8,641.27" fill="#c2c4ca"/>
<polygon points="336.8,641.12 451.3,645.88 451.27,646.62 336.8,641.68" fill="#c3c5cb"/>
<polygon points="336.8,641.53 451.28,646.43 451.25,647.17 336.8,642.1" fill="#c5c7cd"/>
<polygon points="336.8,641.95 451.26,646.97 451.23,647.71 336.8,642.52" fill="#c6c8ce"/>
<polygon points="336.8,642.37 451.24,647.51 451.22,647.98 336.8,642.73" fill="#c8cad0"/>
<polygon points="336.8,642.58 451.23,647.78 451.21,648.25 336.8,642.93" fill="#c5c7cd"/>
<polygon points="336.8,642.78 451.22,648.06 451.2,648.6 336.8,643.2" fill="#bdbfc5"/>
<polygon points="335.2,634.7 337.3,634.7 337.3,641.33 335.2,641.33" fill="#d6d8de"/>
<polygon points="337,647.2 451.5,655 451.45,655.69 337,647.79" fill="#d6d8de"/>
<polygon points="337,647.63 451.47,655.51 451.45,655.79 337,647.88" fill="#e0e1e6"/>
<polygon points="337,647.72 451.46,655.61 451.42,656.2 337,648.22" fill="#e2e3e8"/>
<polygon points="337,648.07 451.43,656.01 451.39,656.7 337,648.66" fill="#e1e2e7"/>
<polygon points="337,648.5 451.4,656.52 451.35,657.21 337,649.09" fill="#e0e1e6"/>
<polygon points="337,648.93 451.37,657.03 451.32,657.72 337,649.52" fill="#e0e1e6"/>
<polygon points="337,649.37 451.33,657.53 451.29,658.22 337,649.96" fill="#dfe0e5"/>
<polygon points="337,649.8 451.3,658.04 451.25,658.73 337,650.39" fill="#dedfe4"/>
<polygon points="337,650.23 451.27,658.55 451.25,658.83 337,650.48" fill="#dedfe4"/>
<polygon points="337,650.32 451.26,658.65 451.22,659.24 337,650.82" fill="#cfd0d6"/>
<polygon points="337,650.67 451.23,659.05 451.21,659.44 337,651" fill="#b8bac1"/>
<polygon points="337,650.84 451.22,659.26 451.19,659.74 337,651.26" fill="#b5b7be"/>
<polygon points="337,651.1 451.2,659.56 451.17,660.05 337,651.52" fill="#bfc1c8"/>
<polygon points="337,651.36 451.18,659.86 451.15,660.25 337,651.69" fill="#c8cad0"/>
<polygon points="337,651.53 451.17,660.07 451.13,660.65 337,652.04" fill="#d5d7dd"/>
<polygon points="337,651.88 451.14,660.47 451.12,660.76 337,652.12" fill="#dee0e6"/>
<polygon points="337,651.97 451.13,660.57 451.09,661.26 337,652.56" fill="#dee0e6"/>
<polygon points="337,652.4 451.1,661.08 451.05,661.77 337,652.99" fill="#dddfe5"/>
<polygon points="337,652.83 451.07,661.59 451.02,662.28 337,653.42" fill="#dcdee4"/>
<polygon points="337,653.27 451.03,662.09 450.99,662.78 337,653.86" fill="#dbdde3"/>
<polygon points="337,653.7 451,662.6 450.95,663.29 337,654.29" fill="#dbdde3"/>
<polygon points="337,654.13 450.97,663.11 450.92,663.8 337,654.72" fill="#dadce2"/>
<polygon points="337,654.57 450.93,663.61 450.89,664.3 337,655.16" fill="#d9dbe1"/>
<polygon points="337,655 450.9,664.12 450.85,664.81 337,655.59" fill="#d9dbe1"/>
<polygon points="337,655.43 450.87,664.63 450.82,665.32 337,656.02" fill="#d8dae0"/>
<polygon points="337,655.87 450.83,665.13 450.79,665.82 337,656.46" fill="#d7d9df"/>
<polygon points="337,656.3 450.8,665.64 450.75,666.33 337,656.89" fill="#d7d9df"/>
<polygon points="337,656.73 450.77,666.15 450.74,666.58 337,657.11" fill="#d6d8de"/>
<polygon points="337,656.95 450.75,666.4 450.72,666.84 337,657.32" fill="#d4d6dc"/>
<polygon points="337,657.17 450.73,666.65 450.69,667.34 337,657.76" fill="#ccced4"/>
<polygon points="337,657.6 450.7,667.16 450.67,667.65 337,658.02" fill="#c5c7cd"/>
<polygon points="337,657.86 450.68,667.46 450.65,667.85 337,658.19" fill="#c2c4ca"/>
<polygon points="337,658.03 450.67,667.67 450.62,668.36 337,658.62" fill="#c3c5cb"/>
<polygon points="337,658.47 450.63,668.17 450.59,668.86 337,659.06" fill="#c5c7cd"/>
<polygon points="337,658.9 450.6,668.68 450.55,669.37 337,659.49" fill="#c6c8ce"/>
<polygon points="337,659.33 450.57,669.19 450.54,669.62 337,659.71" fill="#c8cad0"/>
<polygon points="337,659.55 450.55,669.44 450.52,669.88 337,659.92" fill="#c5c7cd"/>
<polygon points="337,659.77 450.53,669.69 450.5,670.2 337,660.2" fill="#bdbfc5"/>
<polygon points="335.4,651.36 337.5,651.36 337.5,658.25 335.4,658.25" fill="#d6d8de"/>
<polygon points="337.3,664.1 451,676 450.98,676.72 337.3,664.68" fill="#d6d8de"/>
<polygon points="337.3,664.53 450.98,676.53 450.97,676.82 337.3,664.77" fill="#e0e1e6"/>
<polygon points="337.3,664.62 450.98,676.63 450.96,677.24 337.3,665.11" fill="#e2e3e8"/>
<polygon points="337.3,664.96 450.97,677.05 450.94,677.77 337.3,665.54" fill="#e1e2e7"/>
<polygon points="337.3,665.39 450.95,677.58 450.93,678.3 337.3,665.97" fill="#e0e1e6"/>
<polygon points="337.3,665.82 450.93,678.11 450.91,678.82 337.3,666.4" fill="#e0e1e6"/>
<polygon points="337.3,666.25 450.92,678.63 450.89,679.35 337.3,666.83" fill="#dfe0e5"/>
<polygon points="337.3,666.68 450.9,679.16 450.88,679.88 337.3,667.26" fill="#dedfe4"/>
<polygon points="337.3,667.11 450.88,679.69 450.87,679.98 337.3,667.35" fill="#dedfe4"/>
<polygon points="337.3,667.2 450.88,679.79 450.86,680.4 337.3,667.69" fill="#cfd0d6"/>
<polygon points="337.3,667.54 450.87,680.21 450.85,680.61 337.3,667.87" fill="#b8bac1"/>
<polygon points="337.3,667.71 450.86,680.42 450.84,680.93 337.3,668.12" fill="#b5b7be"/>
<polygon points="337.3,667.97 450.85,680.74 450.83,681.25 337.3,668.38" fill="#bfc1c8"/>
<polygon points="337.3,668.23 450.84,681.06 450.83,681.46 337.3,668.55" fill="#c8cad0"/>
<polygon points="337.3,668.4 450.83,681.27 450.81,681.88 337.3,668.9" fill="#d5d7dd"/>
<polygon points="337.3,668.74 450.82,681.69 450.81,681.98 337.3,668.98" fill="#dee0e6"/>
<polygon points="337.3,668.83 450.82,681.79 450.79,682.51 337.3,669.41" fill="#dee0e6"/>
<polygon points="337.3,669.26 450.8,682.32 450.78,683.04 337.3,669.84" fill="#dddfe5"/>
<polygon points="337.3,669.69 450.78,682.85 450.76,683.56 337.3,670.27" fill="#dcdee4"/>
<polygon points="337.3,670.12 450.77,683.37 450.74,684.09 337.3,670.7" fill="#dbdde3"/>
<polygon points="337.3,670.55 450.75,683.9 450.73,684.62 337.3,671.13" fill="#dbdde3"/>
<polygon points="337.3,670.98 450.73,684.43 450.71,685.14 337.3,671.56" fill="#dadce2"/>
<polygon points="337.3,671.41 450.72,684.95 450.69,685.67 337.3,671.99" fill="#d9dbe1"/>
<polygon points="337.3,671.84 450.7,685.48 450.68,686.2 337.3,672.42" fill="#d9dbe1"/>
<polygon points="337.3,672.27 450.68,686.01 450.66,686.72 337.3,672.85" fill="#d8dae0"/>
<polygon points="337.3,672.7 450.67,686.53 450.64,687.25 337.3,673.28" fill="#d7d9df"/>
<polygon points="337.3,673.13 450.65,687.06 450.63,687.78 337.3,673.71" fill="#d7d9df"/>
<polygon points="337.3,673.56 450.63,687.59 450.62,688.04 337.3,673.93" fill="#d6d8de"/>
<polygon points="337.3,673.77 450.62,687.85 450.61,688.3 337.3,674.14" fill="#d4d6dc"/>
<polygon points="337.3,673.99 450.62,688.11 450.59,688.83 337.3,674.57" fill="#ccced4"/>
<polygon points="337.3,674.42 450.6,688.64 450.58,689.15 337.3,674.83" fill="#c5c7cd"/>
<polygon points="337.3,674.68 450.59,688.96 450.58,689.36 337.3,675" fill="#c2c4ca"/>
<polygon points="337.3,674.85 450.58,689.17 450.56,689.88 337.3,675.43" fill="#c3c5cb"/>
<polygon points="337.3,675.28 450.57,689.69 450.54,690.41 337.3,675.86" fill="#c5c7cd"/>
<polygon points="337.3,675.71 450.55,690.22 450.53,690.94 337.3,676.29" fill="#c6c8ce"/>
<polygon points="337.3,676.14 450.53,690.75 450.52,691.2 337.3,676.51" fill="#c8cad0"/>
<polygon points="337.3,676.36 450.52,691.01 450.51,691.46 337.3,676.72" fill="#c5c7cd"/>
<polygon points="337.3,676.57 450.52,691.27 450.5,691.8 337.3,677" fill="#bdbfc5"/>
<polygon points="335.7,668.23 337.8,668.23 337.8,675.07 335.7,675.07" fill="#d6d8de"/>
<polygon points="338,680.3 450.5,695.8 450.48,696.54 338,680.88" fill="#d6d8de"/>
<polygon points="338,680.72 450.48,696.35 450.47,696.65 338,680.96" fill="#e0e1e6"/>
<polygon points="338,680.81 450.48,696.46 450.46,697.09 338,681.3" fill="#e2e3e8"/>
<polygon points="338,681.15 450.47,696.89 450.44,697.64 338,681.72" fill="#e1e2e7"/>
<polygon points="338,681.57 450.45,697.44 450.43,698.18 338,682.15" fill="#e0e1e6"/>
<polygon points="338,681.99 450.43,697.99 450.41,698.73 338,682.57" fill="#e0e1e6"/>
<polygon points="338,682.42 450.42,698.53 450.39,699.28 338,682.99" fill="#dfe0e5"/>
<polygon points="338,682.84 450.4,699.08 450.38,699.82 338,683.42" fill="#dedfe4"/>
<polygon points="338,683.26 450.38,699.63 450.37,699.93 338,683.5" fill="#dedfe4"/>
<polygon points="338,683.35 450.38,699.74 450.36,700.37 338,683.84" fill="#cfd0d6"/>
<polygon points="338,683.69 450.37,700.17 450.35,700.59 338,684.01" fill="#b8bac1"/>
<polygon points="338,683.86 450.36,700.39 450.34,700.92 338,684.26" fill="#b5b7be"/>
<polygon points="338,684.11 450.35,700.72 450.33,701.24 338,684.52" fill="#bfc1c8"/>
<polygon points="338,684.36 450.34,701.05 450.33,701.46 338,684.69" fill="#c8cad0"/>
<polygon points="338,684.53 450.33,701.27 450.31,701.9 338,685.02" fill="#d5d7dd"/>
<polygon points="338,684.87 450.32,701.7 450.31,702.01 338,685.11" fill="#dee0e6"/>
<polygon points="338,684.96 450.32,701.81 450.29,702.56 338,685.53" fill="#dee0e6"/>
<polygon points="338,685.38 450.3,702.36 450.28,703.1 338,685.96" fill="#dddfe5"/>
<polygon points="338,685.8 450.28,702.91 450.26,703.65 338,686.38" fill="#dcdee4"/>
<polygon points="338,686.23 450.27,703.45 450.24,704.2 338,686.8" fill="#dbdde3"/>
<polygon points="338,686.65 450.25,704 450.23,704.74 338,687.23" fill="#dbdde3"/>
<polygon points="338,687.07 450.23,704.55 450.21,705.29 338,687.65" fill="#dadce2"/>
<polygon points="338,687.5 450.22,705.09 450.19,705.84 338,688.07" fill="#d9dbe1"/>
<polygon points="338,687.92 450.2,705.64 450.18,706.38 338,688.5" fill="#d9dbe1"/>
<polygon points="338,688.34 450.18,706.19 450.16,706.93 338,688.92" fill="#d8dae0"/>
<polygon points="338,688.77 450.17,706.73 450.14,707.48 338,689.34" fill="#d7d9df"/>
<polygon points="338,689.19 450.15,707.28 450.13,708.02 338,689.77" fill="#d7d9df"/>
<polygon points="338,689.61 450.13,707.83 450.12,708.3 338,689.98" fill="#d6d8de"/>
<polygon points="338,689.83 450.12,708.1 450.11,708.57 338,690.19" fill="#d4d6dc"/>
<polygon points="338,690.04 450.12,708.37 450.09,709.12 338,690.61" fill="#ccced4"/>
<polygon points="338,690.46 450.1,708.92 450.08,709.44 338,690.87" fill="#c5c7cd"/>
<polygon points="338,690.71 450.09,709.25 450.08,709.66 338,691.04" fill="#c2c4ca"/>
<polygon points="338,690.88 450.08,709.47 450.06,710.21 338,691.46" fill="#c3c5cb"/>
<polygon points="338,691.31 450.07,710.01 450.04,710.76 338,691.88" fill="#c5c7cd"/>
<polygon points="338,691.73 450.05,710.56 450.03,711.3 338,692.31" fill="#c6c8ce"/>
<polygon points="338,692.15 450.03,711.11 450.02,711.58 338,692.52" fill="#c8cad0"/>
<polygon points="338,692.37 450.02,711.38 450.01,711.85 338,692.73" fill="#c5c7cd"/>
<polygon points="338,692.58 450.02,711.65 450,712.2 338,693" fill="#bdbfc5"/>
<polygon points="336.4,684.36 338.5,684.36 338.5,691.1 336.4,691.1" fill="#d6d8de"/>
<ellipse cx="344.8" cy="637.5" rx="0.9" ry="1.4" fill="#7a7c82"/>
<ellipse cx="372" cy="638.3" rx="0.9" ry="1.4" fill="#7a7c82"/>
<ellipse cx="396.8" cy="639" rx="0.9" ry="1.4" fill="#7a7c82"/>
<ellipse cx="432.6" cy="640.8" rx="0.9" ry="1.4" fill="#7a7c82"/>
<ellipse cx="345.4" cy="654.8" rx="0.9" ry="1.4" fill="#7a7c82"/>
<ellipse cx="372.3" cy="657.1" rx="0.9" ry="1.4" fill="#7a7c82"/>
<ellipse cx="396.8" cy="658.9" rx="0.9" ry="1.4" fill="#7a7c82"/>
<ellipse cx="432.1" cy="661.8" rx="0.9" ry="1.4" fill="#7a7c82"/>
<ellipse cx="346" cy="671.7" rx="0.9" ry="1.4" fill="#7a7c82"/>
<ellipse cx="372.6" cy="675.4" rx="0.9" ry="1.4" fill="#7a7c82"/>
<ellipse cx="397" cy="678.1" rx="0.9" ry="1.4" fill="#7a7c82"/>
<ellipse cx="431.8" cy="683" rx="0.9" ry="1.4" fill="#7a7c82"/>
<ellipse cx="346.4" cy="688.3" rx="0.9" ry="1.4" fill="#7a7c82"/>
<ellipse cx="372.8" cy="692.9" rx="0.9" ry="1.4" fill="#7a7c82"/>
<ellipse cx="397.1" cy="697" rx="0.9" ry="1.4" fill="#7a7c82"/>
<ellipse cx="431.5" cy="703.1" rx="0.9" ry="1.4" fill="#7a7c82"/>
</g>
<g id="fixedarms">
<polygon points="577.2,632.8 585.5,632.8 585.5,646.7 577.2,646.7" fill="#2e2e2e"/>
<polygon points="581.2,621 583.4,621 583.4,632.8 581.2,632.8" fill="#2e2e2e"/>
<polygon points="577.8,699.4 586.5,699.4 586.5,709.3 577.8,709.3" fill="#2e2e2e"/>
<polygon points="582,709.3 585,709.3 585,720 582,720" fill="#2e2e2e"/>
<polygon points="611.7,630.9 620,630.9 620,643.3 611.7,643.3" fill="#2e2e2e"/>
<polygon points="611,691.8 619.5,691.8 619.5,700 611,700" fill="#2e2e2e"/>
<polygon points="584.8,576.9 585.2,670 586.6,762.4 597.7,760.1 597.8,670 597.2,577.6" fill="#414141"/>
<polygon points="584.8,576.9 585.2,670 586.6,762.4 589.1,762.4 587.7,670 586.8,576.9" fill="#353535"/>
<polygon points="586.8,576.9 587.7,670 589.1,762.4 590.4,762.4 589,670 588.1,576.9" fill="#484848"/>
<polygon points="584.8,576.9 585.2,670 586.6,762.4 587.5,762.4 586.1,670 585.7,576.9" fill="#2a2a2a"/>
<polygon points="596.4,577.6 597,670 596.9,760.1 597.7,760.1 597.8,670 597.2,577.6" fill="#383838"/>
<ellipse cx="592" cy="583.6" rx="1.2" ry="1.9" fill="#ffffff"/>
<ellipse cx="592.05" cy="589.4" rx="1.2" ry="1.9" fill="#ffffff"/>
<ellipse cx="592.1" cy="595.3" rx="1.2" ry="1.9" fill="#ffffff"/>
<ellipse cx="592.15" cy="600.9" rx="1.2" ry="1.9" fill="#ffffff"/>
<ellipse cx="592.2" cy="606.4" rx="1.2" ry="1.9" fill="#ffffff"/>
<ellipse cx="592.25" cy="612" rx="1.2" ry="1.9" fill="#ffffff"/>
<ellipse cx="592.3" cy="617.8" rx="1.2" ry="1.9" fill="#ffffff"/>
<ellipse cx="592.35" cy="623.3" rx="1.2" ry="1.9" fill="#ffffff"/>
<ellipse cx="592.4" cy="628.9" rx="1.2" ry="1.9" fill="#ffffff"/>
<ellipse cx="592.45" cy="634.2" rx="1.2" ry="1.9" fill="#1d1d1d"/>
<ellipse cx="592.5" cy="639.8" rx="1.2" ry="1.9" fill="#1d1d1d"/>
<ellipse cx="592.55" cy="645.3" rx="1.2" ry="1.9" fill="#ffffff"/>
<ellipse cx="592.6" cy="650.6" rx="1.2" ry="1.9" fill="#ffffff"/>
<ellipse cx="592.2" cy="664.4" rx="0.7" ry="1.5" fill="#161616"/>
<rect x="591.8" y="676.7" width="2.4" height="18.6" rx="1.2" fill="#ffffff"/>
<rect x="592" y="708" width="2.2" height="8.3" rx="1.1" fill="#ffffff"/>
<rect x="592.2" y="718.7" width="2.4" height="16.3" rx="1.2" fill="#ffffff"/>
<rect x="592.3" y="738.5" width="2.4" height="17.5" rx="1.2" fill="#ffffff"/>
<polygon points="619.4,580 618.9,670 619.3,748.4 629,745.5 629.2,670 630.6,580.6" fill="#414141"/>
<polygon points="619.4,580 618.9,670 619.3,748.4 621.5,748.4 621.1,670 620.9,580" fill="#353535"/>
<polygon points="620.9,580 621.1,670 621.5,748.4 622.8,748.4 622.4,670 622.2,580" fill="#484848"/>
<polygon points="619.4,580 618.9,670 619.3,748.4 620.2,748.4 619.8,670 620.3,580" fill="#2a2a2a"/>
<polygon points="629.8,580.6 628.4,670 628.2,745.5 629,745.5 629.2,670 630.6,580.6" fill="#383838"/>
<ellipse cx="625.9" cy="586.1" rx="1.1" ry="1.8" fill="#ffffff"/>
<ellipse cx="625.88" cy="591.1" rx="1.1" ry="1.8" fill="#ffffff"/>
<ellipse cx="625.85" cy="596.4" rx="1.1" ry="1.8" fill="#ffffff"/>
<ellipse cx="625.82" cy="601.7" rx="1.1" ry="1.8" fill="#ffffff"/>
<ellipse cx="625.8" cy="606.7" rx="1.1" ry="1.8" fill="#ffffff"/>
<ellipse cx="625.77" cy="612" rx="1.1" ry="1.8" fill="#ffffff"/>
<ellipse cx="625.75" cy="616.9" rx="1.1" ry="1.8" fill="#ffffff"/>
<ellipse cx="625.73" cy="622" rx="1.1" ry="1.8" fill="#ffffff"/>
<ellipse cx="625.7" cy="627.2" rx="1.1" ry="1.8" fill="#ffffff"/>
<ellipse cx="625.67" cy="632" rx="1.1" ry="1.8" fill="#1d1d1d"/>
<ellipse cx="625.65" cy="637.2" rx="1.1" ry="1.8" fill="#1d1d1d"/>
<ellipse cx="625.62" cy="642.2" rx="1.1" ry="1.8" fill="#ffffff"/>
<ellipse cx="625.6" cy="647" rx="1.1" ry="1.8" fill="#ffffff"/>
<rect x="624" y="669.7" width="2.3" height="17.5" rx="1.15" fill="#ffffff"/>
<rect x="624.2" y="699.4" width="2" height="7.6" rx="1" fill="#ffffff"/>
<rect x="624.1" y="708.8" width="2" height="15.7" rx="1" fill="#ffffff"/>
<rect x="624" y="726.8" width="2" height="15.8" rx="1" fill="#ffffff"/>
</g>
</svg>
<svg id="labels" width="1200" height="900" viewBox="0 0 1200 900">
<g font-family="'Liberation Sans', sans-serif" font-size="11.8" fill="#161616" stroke="#161616" stroke-width="0.32">
<text x="874.9" y="244.9" textLength="118.5" lengthAdjust="spacingAndGlyphs">The Anti-theft screws</text>
<text x="874.9" y="258.3" textLength="83.4" lengthAdjust="spacingAndGlyphs">&amp;AL plastic cap</text>
<text x="874.9" y="271.4" textLength="12.8" lengthAdjust="spacingAndGlyphs">X2</text>
<text x="905.8" y="485.6" textLength="87.4" lengthAdjust="spacingAndGlyphs">Small wall plate</text>
<text x="905.8" y="499.4" textLength="12.2" lengthAdjust="spacingAndGlyphs">x3</text>
<text x="807" y="698" textLength="220.6" lengthAdjust="spacingAndGlyphs">Aluminum rail (1000mmx3+480mmx1)</text>
<text x="353.4" y="749.6" textLength="120.6" lengthAdjust="spacingAndGlyphs">AL rail extension bars</text>
<text x="353.4" y="762.8" textLength="13.8" lengthAdjust="spacingAndGlyphs">X3</text>
<text x="645.8" y="757.9" textLength="79.2" lengthAdjust="spacingAndGlyphs">Fixed arms X3</text>
</g>
</svg>
</body></html>
